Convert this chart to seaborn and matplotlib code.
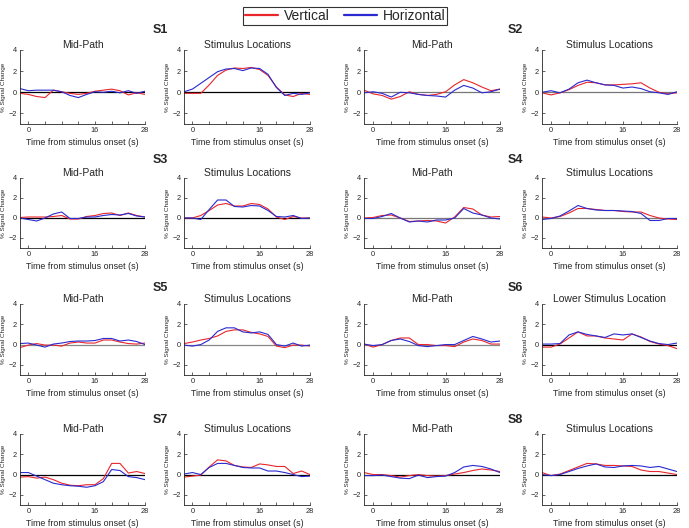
import matplotlib
matplotlib.use("Agg")
import matplotlib.pyplot as plt
import seaborn as sns
import pandas as pd
from matplotlib.lines import Line2D

# ---------------- data ----------------
time_s = list(range(-2, 29, 2))
x_ticks = [0, 4, 8, 12, 16, 20, 24, 28]
x_tick_labels = ["0", "", "", "", "16", "", "", "28"]
y_ticks = [-2, 0, 2, 4]
conditions = ["Vertical", "Horizontal"]
subjects = ["S1", "S2", "S3", "S4", "S5", "S6", "S7", "S8"]

# panel order: row by row, S1 mid, S1 stim, S2 mid, S2 stim, ...
panel_titles = ["Mid-Path", "Stimulus Locations", "Mid-Path", "Stimulus Locations",
                "Mid-Path", "Stimulus Locations", "Mid-Path", "Stimulus Locations",
                "Mid-Path", "Stimulus Locations", "Mid-Path", "Lower Stimulus Location",
                "Mid-Path", "Stimulus Locations", "Mid-Path", "Stimulus Locations"]

s1_mid_vert = [-0.1, -0.2, -0.4, -0.5, 0.2, 0.05, -0.1, -0.2, -0.1, 0.1, 0.2, 0.3, 0.15, -0.25, -0.05, -0.2]
s1_mid_horz = [0.35, 0.15, 0.2, 0.2, 0.2, 0.05, -0.3, -0.5, -0.2, 0.05, 0.0, 0.1, -0.05, 0.15, -0.1, 0.1]
s1_stim_vert = [-0.1, -0.1, -0.1, 0.7, 1.6, 2.1, 2.3, 2.25, 2.35, 2.15, 1.6, 0.5, -0.25, -0.4, -0.1, -0.2]
s1_stim_horz = [0.05, 0.3, 0.85, 1.4, 1.95, 2.2, 2.25, 2.05, 2.3, 2.25, 1.7, 0.45, -0.3, -0.1, -0.2, -0.05]

s2_mid_vert = [0.2, -0.15, -0.3, -0.65, -0.4, 0.05, -0.2, -0.3, -0.2, 0.05, 0.7, 1.2, 0.9, 0.5, 0.15, 0.3]
s2_mid_horz = [-0.05, 0.05, -0.1, -0.45, 0.0, -0.05, -0.2, -0.3, -0.35, -0.45, 0.2, 0.65, 0.4, -0.05, 0.05, 0.3]
s2_stim_vert = [-0.05, -0.25, -0.05, 0.25, 0.65, 0.95, 0.9, 0.7, 0.7, 0.75, 0.8, 0.9, 0.4, 0.0, -0.15, -0.05]
s2_stim_horz = [0.0, 0.15, -0.05, 0.3, 0.9, 1.15, 0.9, 0.7, 0.65, 0.4, 0.5, 0.35, 0.05, -0.05, -0.2, 0.05]

s3_mid_vert = [0.05, 0.1, 0.1, 0.1, 0.15, 0.25, -0.1, -0.1, 0.15, 0.25, 0.45, 0.5, 0.25, 0.5, 0.25, 0.1]
s3_mid_horz = [0.0, -0.15, -0.3, 0.0, 0.4, 0.6, -0.05, -0.05, 0.1, 0.1, 0.25, 0.35, 0.3, 0.45, 0.2, 0.1]
s3_stim_vert = [0.0, 0.0, 0.25, 0.75, 1.3, 1.45, 1.2, 1.2, 1.45, 1.35, 0.9, 0.1, -0.15, 0.15, 0.0, 0.0]
s3_stim_horz = [0.0, 0.0, -0.15, 0.85, 1.8, 1.8, 1.15, 1.1, 1.25, 1.2, 0.75, 0.15, 0.1, 0.25, -0.05, 0.0]

s4_mid_vert = [0.0, 0.05, 0.25, 0.3, 0.0, -0.35, -0.3, -0.25, -0.3, -0.5, 0.1, 1.05, 0.9, 0.3, 0.1, 0.15]
s4_mid_horz = [-0.05, -0.05, 0.15, 0.45, 0.0, -0.4, -0.3, -0.4, -0.2, -0.2, 0.0, 0.95, 0.5, 0.3, 0.0, -0.1]
s4_stim_vert = [0.1, 0.0, 0.15, 0.5, 0.95, 0.95, 0.85, 0.75, 0.75, 0.65, 0.6, 0.6, 0.25, 0.0, -0.1, -0.15]
s4_stim_horz = [-0.15, -0.05, 0.2, 0.7, 1.25, 0.95, 0.8, 0.75, 0.75, 0.7, 0.65, 0.45, -0.25, -0.25, -0.05, -0.05]

s5_mid_vert = [-0.3, -0.05, 0.1, -0.05, -0.05, -0.15, 0.15, 0.25, 0.15, 0.15, 0.45, 0.45, 0.25, 0.1, 0.05, 0.15]
s5_mid_horz = [0.1, 0.15, -0.05, -0.25, 0.05, 0.15, 0.3, 0.35, 0.35, 0.4, 0.6, 0.6, 0.35, 0.45, 0.3, 0.0]
s5_stim_vert = [0.1, 0.25, 0.45, 0.6, 0.85, 1.3, 1.45, 1.45, 1.2, 1.05, 0.8, -0.15, -0.3, -0.05, -0.05, -0.15]
s5_stim_horz = [-0.05, -0.15, 0.0, 0.45, 1.3, 1.65, 1.65, 1.25, 1.15, 1.25, 1.0, 0.0, -0.15, 0.15, -0.15, -0.05]

s6_mid_vert = [0.05, -0.25, 0.0, 0.4, 0.65, 0.65, 0.0, 0.0, -0.1, -0.1, -0.2, 0.25, 0.55, 0.4, 0.05, 0.05]
s6_mid_horz = [0.05, -0.1, 0.0, 0.4, 0.55, 0.3, -0.1, -0.2, -0.1, 0.0, 0.0, 0.4, 0.8, 0.55, 0.25, 0.35]
s6_stim_vert = [-0.25, -0.25, 0.05, 0.65, 1.25, 0.85, 0.85, 0.65, 0.55, 0.45, 1.05, 0.75, 0.3, 0.05, -0.1, -0.4]
s6_stim_horz = [0.05, 0.05, 0.1, 0.95, 1.25, 1.0, 0.85, 0.7, 1.05, 0.95, 1.05, 0.7, 0.35, 0.1, 0.0, 0.15]

s7_mid_vert = [-0.25, -0.2, -0.35, -0.25, -0.5, -0.85, -1.05, -1.1, -1.0, -1.0, -0.4, 1.1, 1.1, 0.15, 0.3, 0.1]
s7_mid_horz = [0.2, 0.2, -0.15, -0.5, -0.85, -1.0, -1.1, -1.15, -1.25, -1.1, -0.7, 0.5, 0.4, -0.2, -0.3, -0.5]
s7_stim_vert = [-0.25, -0.15, -0.05, 0.75, 1.45, 1.35, 0.9, 0.75, 0.7, 1.05, 0.95, 0.8, 0.8, 0.1, 0.35, 0.0]
s7_stim_horz = [0.05, 0.2, 0.0, 0.7, 1.1, 1.1, 0.9, 0.7, 0.65, 0.65, 0.35, 0.35, 0.2, 0.0, -0.2, -0.15]

s8_mid_vert = [0.2, 0.0, 0.0, -0.1, -0.25, -0.1, 0.0, -0.1, -0.15, -0.1, 0.05, 0.2, 0.4, 0.55, 0.45, 0.3]
s8_mid_horz = [-0.1, -0.1, -0.05, -0.2, -0.35, -0.4, -0.05, -0.3, -0.2, -0.15, 0.2, 0.75, 0.9, 0.8, 0.55, 0.2]
s8_stim_vert = [0.2, -0.1, 0.05, 0.4, 0.75, 1.1, 1.05, 0.9, 0.9, 0.85, 0.8, 0.45, 0.3, 0.3, 0.15, 0.0]
s8_stim_horz = [0.0, -0.1, 0.0, 0.3, 0.6, 0.85, 1.05, 0.75, 0.7, 0.85, 0.9, 0.85, 0.7, 0.8, 0.55, 0.3]

panel_series = [
    (s1_mid_vert, s1_mid_horz), (s1_stim_vert, s1_stim_horz),
    (s2_mid_vert, s2_mid_horz), (s2_stim_vert, s2_stim_horz),
    (s3_mid_vert, s3_mid_horz), (s3_stim_vert, s3_stim_horz),
    (s4_mid_vert, s4_mid_horz), (s4_stim_vert, s4_stim_horz),
    (s5_mid_vert, s5_mid_horz), (s5_stim_vert, s5_stim_horz),
    (s6_mid_vert, s6_mid_horz), (s6_stim_vert, s6_stim_horz),
    (s7_mid_vert, s7_mid_horz), (s7_stim_vert, s7_stim_horz),
    (s8_mid_vert, s8_mid_horz), (s8_stim_vert, s8_stim_horz),
]

# ---------------- style ----------------
sns.set_style("ticks")
plt.rcParams["font.family"] = ["Liberation Sans", "DejaVu Sans"]

palette = {"Vertical": "#e8262b", "Horizontal": "#2a2ad0"}
zero_colors = ["black", "black", "#777777", "#777777",
               "black", "black", "#777777", "#777777",
               "#888888", "#888888", "#888888", "black",
               "black", "black", "black", "black"]

W, H = 689, 528
fig = plt.figure(figsize=(W / 100, H / 100), dpi=100)

col_px = [(20, 145), (184, 310), (364, 500), (542, 677)]
row_px = [(50, 124), (178, 248), (304, 375), (434, 505)]
subj_px = [(160, 30), (515, 30), (160, 160), (515, 160),
           (160, 288), (515, 288), (160, 420), (515, 420)]

for i, (vert, horz) in enumerate(panel_series):
    r, c = divmod(i, 4)
    x0, x1 = col_px[c]
    y0, y1 = row_px[r]
    ax = fig.add_axes([x0 / W, 1 - y1 / H, (x1 - x0) / W, (y1 - y0) / H])
    df = pd.DataFrame({
        "time": time_s * 2,
        "signal": vert + horz,
        "condition": ["Vertical"] * len(time_s) + ["Horizontal"] * len(time_s),
    })
    ax.axhline(0, color=zero_colors[i], lw=0.9, zorder=1)
    sns.lineplot(data=df, x="time", y="signal", hue="condition",
                 hue_order=conditions, palette=palette, ax=ax,
                 legend=False, linewidth=0.8, zorder=2)
    ax.set_xlim(-2, 28)
    ax.set_ylim(-3, 4)
    ax.set_xticks(x_ticks)
    ax.set_xticklabels(x_tick_labels)
    ax.set_yticks(y_ticks)
    ax.tick_params(direction="in", length=2, width=0.5, labelsize=5.3, pad=2)
    for s in ("top", "right"):
        ax.spines[s].set_visible(False)
    for s in ("left", "bottom"):
        ax.spines[s].set_linewidth(0.6)
    ax.set_ylabel("% Signal Change", fontsize=4.6, labelpad=2)
    ax.set_xlabel("Time from stimulus onset (s)", fontsize=6.4, labelpad=3)
    ax.set_title(panel_titles[i], fontsize=7.5, pad=1.5)

for name, (sx, sy) in zip(subjects, subj_px):
    fig.text(sx / W, 1 - sy / H, name, fontsize=9, fontweight="bold",
             ha="center", va="center")

handles = [Line2D([], [], color=palette[k], lw=1.6) for k in conditions]
leg = fig.legend(handles, conditions, loc="upper center", ncol=2,
                 bbox_to_anchor=(345 / W, 1.0), fontsize=10, frameon=True,
                 fancybox=False, edgecolor="black", handlelength=2.4,
                 borderpad=0.15, columnspacing=1.0, handletextpad=0.4)
leg.get_frame().set_linewidth(0.8)

fig.savefig("out.png", dpi=100)
